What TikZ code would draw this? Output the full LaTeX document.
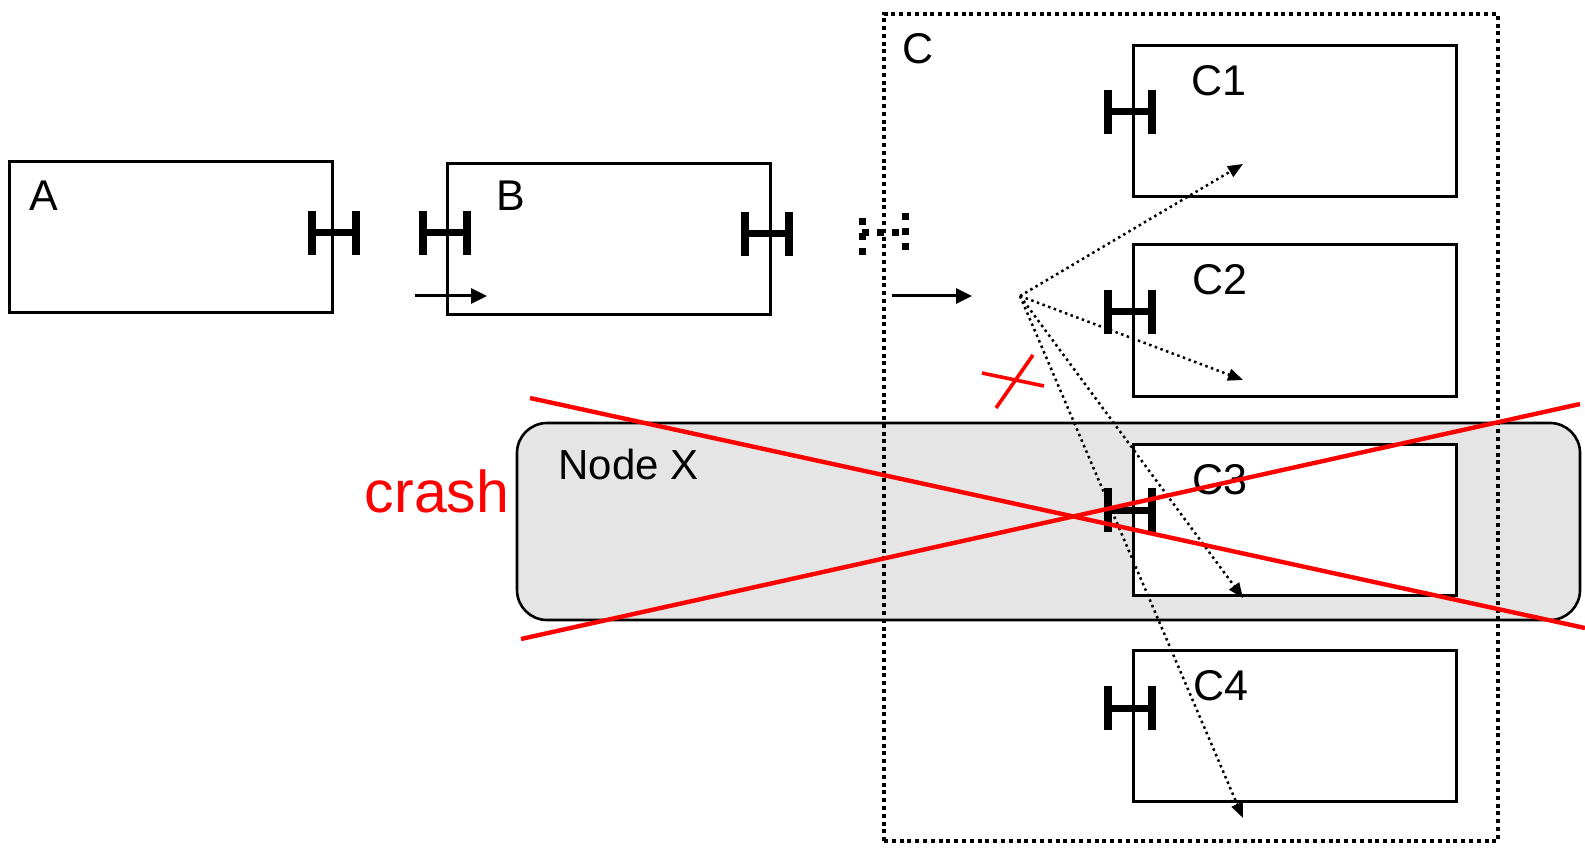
\documentclass[tikz,border=0pt]{standalone}
\usepackage{fontspec}
\setmainfont{Liberation Sans}
\usetikzlibrary{arrows.meta}
\begin{document}
\begin{tikzpicture}[x=0.5pt,y=-0.5pt,
  box/.style={draw,line width=1.5pt,fill=white,minimum width=161.5pt,minimum height=75.5pt,inner sep=0pt},
  lbl/.style={font=\fontsize{21.5}{25}\selectfont,inner sep=0pt,anchor=base},
  porth/.pic={\fill (-26,-22) rectangle (-18,22); \fill (18,-22) rectangle (26,22); \fill (-18,-3.5) rectangle (18,3.5);},
  flow/.style={line width=1.5pt,-{Triangle[length=8pt,width=7.5pt]}},
  route/.style={line width=1.25pt,dash pattern=on 1.25pt off 1.75pt,-{Triangle[length=7.5pt,width=6pt]}},
  cross/.style={red,line width=2.2pt},
  dotport/.style={line width=3.5pt,dash pattern=on 3.5pt off 4pt}
]
\useasboundingbox (0,0) rectangle (1585,850);

% Node X
\node[draw,line width=1.3pt,fill=gray!20,rounded corners=15pt,minimum width=531.5pt,minimum height=98.5pt] (nodex) at (1048.5,521.5) {};
% C frame
\node[draw,line width=2pt,dash pattern=on 2pt off 1.9pt,minimum width=307pt,minimum height=413.5pt] (cframe) at (1191,427.5) {};

% boxes
\node[box] (A) at (171,237.5) {};
\node[box] (B) at (608.5,239) {};
\node[box] (C1) at (1294.5,121.5) {};
\node[box] (C2) at (1294.5,320.5) {};
\node[box] (C3) at (1294.5,520) {};
\node[box] (C4) at (1294.5,726) {};

% ports
\pic at (334,233) {porth};
\pic at (445,233) {porth};
\pic at (767,234) {porth};
\pic at (1130,112) {porth};
\pic at (1130,312) {porth};
\pic at (1130,510) {porth};
\pic at (1130,708) {porth};

% dotted port on C boundary
\draw[dotport] (862,218) -- (862,255);
\draw[dotport] (905,213) -- (905,252);
\draw[dotport] (862,233) -- (905,233);

% labels
\node[lbl] (la) at (44,211) {A};
\node[lbl] (lb) at (511,211) {B};
\node[lbl] (lc) at (918,64) {C};
\node[lbl] (lc1) at (1219,96) {C1};
\node[lbl] (lc2) at (1220,294) {C2};
\node[lbl] (lc3) at (1220,494) {C3};
\node[lbl] (lc4) at (1221,700) {C4};
\node[font=\fontsize{21}{25}\selectfont,inner sep=0pt,anchor=base] (lx) at (628.5,479) {Node X};
\node[font=\fontsize{29.5}{34}\selectfont,text=red,inner sep=0pt,anchor=base] (crash) at (437,512) {crash};

% solid arrows
\coordinate (b1) at (415,296);
\coordinate (b2) at (487,296);
\coordinate (c0) at (892,296);
\coordinate (c1) at (972,296);
\draw[flow] (b1) -- (b2);
\draw[flow] (c0) -- (c1);

% dotted routes
\coordinate (src) at (1020,296);
\coordinate (t1) at (1243,164);
\coordinate (t2) at (1243,380);
\coordinate (t3) at (1243,598);
\coordinate (t4) at (1243,818);
\draw[route] (src) -- (t1);
\draw[route] (src) -- (t2);
\draw[route] (src) -- (t3);
\draw[route] (src) -- (t4);

% red crosses
\coordinate (r1a) at (530,398);
\coordinate (r1b) at (1585,628);
\coordinate (r2a) at (521,639);
\coordinate (r2b) at (1580,404);
\draw[cross] (r1a) -- (r1b);
\draw[cross] (r2a) -- (r2b);
\coordinate (s1a) at (982,373);
\coordinate (s1b) at (1044,386);
\coordinate (s2a) at (996,408);
\coordinate (s2b) at (1033,355);
\draw[cross,line width=1.8pt] (s1a) -- (s1b);
\draw[cross,line width=1.8pt] (s2a) -- (s2b);
\end{tikzpicture}
\end{document}
